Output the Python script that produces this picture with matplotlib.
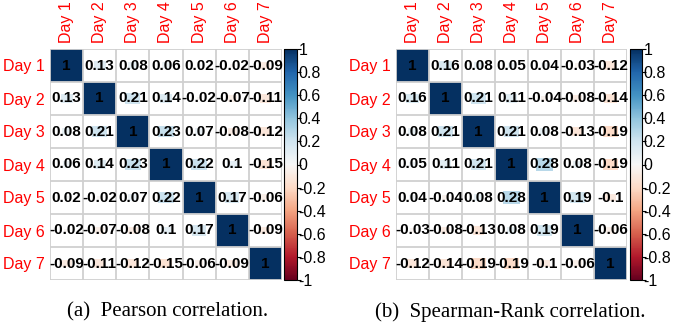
import numpy as np
import matplotlib
matplotlib.use("Agg")
import matplotlib.pyplot as plt
from matplotlib.patches import Rectangle
from matplotlib import colors, cm

plt.rcParams["axes.unicode_minus"] = False

dias = ["Day 1", "Day 2", "Day 3", "Day 4", "Day 5", "Day 6", "Day 7"]

pearson = [
    [1, 0.13, 0.08, 0.06, 0.02, -0.02, -0.09],
    [0.13, 1, 0.21, 0.14, -0.02, -0.07, -0.11],
    [0.08, 0.21, 1, 0.23, 0.07, -0.08, -0.12],
    [0.06, 0.14, 0.23, 1, 0.22, 0.1, -0.15],
    [0.02, -0.02, 0.07, 0.22, 1, 0.17, -0.06],
    [-0.02, -0.07, -0.08, 0.1, 0.17, 1, -0.09],
    [-0.09, -0.11, -0.12, -0.15, -0.06, -0.09, 1],
]

spearman = [
    [1, 0.16, 0.08, 0.05, 0.04, -0.03, -0.12],
    [0.16, 1, 0.21, 0.11, -0.04, -0.08, -0.14],
    [0.08, 0.21, 1, 0.21, 0.08, -0.13, -0.19],
    [0.05, 0.11, 0.21, 1, 0.28, 0.08, -0.19],
    [0.04, -0.04, 0.08, 0.28, 1, 0.19, -0.1],
    [-0.03, -0.08, -0.13, 0.08, 0.19, 1, -0.06],
    [-0.12, -0.14, -0.19, -0.19, -0.1, -0.06, 1],
]

legendas = ["(a)  Pearson correlation.", "(b)  Spearman-Rank correlation."]

W, H = 674, 329
fig = plt.figure(figsize=(W / 100, H / 100), dpi=100)
norma = colors.Normalize(vmin=-1, vmax=1)
cmap = plt.cm.RdBu


def caixa(x0, y0, x1, y1):
    # pixel coords (top-left origin) -> fig fractions
    return [x0 / W, 1 - y1 / H, (x1 - x0) / W, (y1 - y0) / H]


def desenhar_matriz(matriz, x_grid, x_cbar, legenda, x_leg):
    m = np.array(matriz, dtype=float)
    n = len(m)
    ax = fig.add_axes(caixa(x_grid[0], 49, x_grid[1], 280))
    ax.set_xlim(0, n)
    ax.set_ylim(n, 0)

    for i in range(n):
        for j in range(n):
            r = m[i, j]
            cor = cmap(norma(r))
            if abs(r) >= 1:
                w, h = 1, 1
            else:
                w = np.sqrt(abs(r))
                h = w * 0.75
            ax.add_patch(Rectangle((j + 0.5 - w / 2, i + 0.5 - h / 2), w, h,
                                   facecolor=cor, edgecolor="none"))
            ax.text(j + 0.5, i + 0.5, "{:g}".format(r), ha="center", va="center",
                    fontsize=11, fontweight="bold", color="black",
                    family="Liberation Sans")

    for k in range(n + 1):
        ax.axhline(k, color="#d0d0d0", lw=1.3)
        ax.axvline(k, color="#d0d0d0", lw=1.3)

    for s in ax.spines.values():
        s.set_visible(False)

    ax.set_xticks(np.arange(n) + 0.5)
    ax.set_yticks(np.arange(n) + 0.5)
    ax.set_xticklabels(dias, rotation=90, color="red", fontsize=11.5, family="Liberation Sans")
    ax.set_yticklabels(dias, color="red", fontsize=11.5, family="Liberation Sans")
    ax.xaxis.tick_top()
    ax.tick_params(length=0, pad=4)

    cax = fig.add_axes(caixa(x_cbar[0], 49, x_cbar[1], 280))
    cb = fig.colorbar(cm.ScalarMappable(norm=norma, cmap=cmap), cax=cax)
    ticks = np.round(np.linspace(-1, 1, 11), 1)
    cb.set_ticks(ticks)
    cb.set_ticklabels(["{:g}".format(t) for t in ticks])
    cax.tick_params(labelsize=11.5, length=3, width=0.8, pad=-2)
    for t in cax.get_yticklabels():
        t.set_family("Liberation Sans")
    cb.outline.set_linewidth(0.8)

    fig.text(x_leg / W, 1 - 312 / H, legenda, ha="center", va="center",
             fontsize=15, family="Liberation Serif")


desenhar_matriz(pearson, (50, 282), (284, 297), legendas[0], 168)
desenhar_matriz(spearman, (396, 627), (630, 642), legendas[1], 510)

fig.savefig("out.png", dpi=100)
